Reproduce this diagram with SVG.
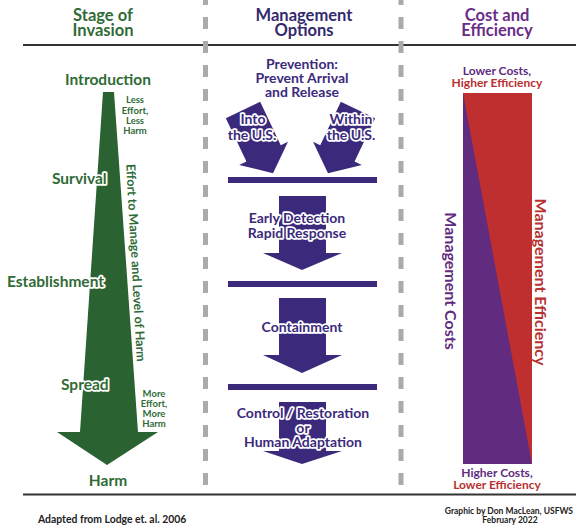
<svg xmlns="http://www.w3.org/2000/svg" width="576" height="527" viewBox="0 0 576 527">
<style>
text{font-family:Lato,"Liberation Sans",sans-serif;font-weight:bold;}
.g{fill:#2f6b36}
.p{fill:#3b2a7c}
.pc{fill:#612c80}
.r{fill:#b8302f}
.halo{paint-order:stroke;stroke:#fff;stroke-width:3.5px;stroke-linejoin:round}
.c{text-anchor:middle}
.dash{stroke:#aaa;stroke-width:5;stroke-dasharray:12 12}
.rule{stroke:#333;stroke-width:2}
.hd{font-size:16.5px}
.st{font-size:15.5px}
.sm{font-size:9.5px}
.mo{font-size:14px}
</style>
<defs>
<polygon id="diag" points="0,-19 48,-19 48,-27 70,0 48,27 48,19 0,19"/>
</defs>
<rect width="576" height="527" fill="#fff"/>

<g id="rules">
<line class="rule" x1="23" y1="45" x2="576" y2="45"/>
<line class="rule" x1="23" y1="494.5" x2="576" y2="494.5"/>
</g>

<g id="headers">
<text class="g c hd" x="103" y="20.5">Stage of</text>
<text class="g c hd" x="103" y="35.5">Invasion</text>
<text class="c hd" x="304" y="20.5" fill="#33296e">Management</text>
<text class="c hd" x="304" y="35.5" fill="#33296e">Options</text>
<text class="c hd" x="497" y="20.5" fill="#6a2c87">Cost and</text>
<text class="c hd" x="497" y="35.5" fill="#6a2c87">Efficiency</text>
</g>

<g id="stage-arrow">
<polygon points="103,92 114,92 138,432 158,432 107,465 57,432 80,432" fill="#2b6232"/>
</g>
<g id="stage-labels">
<text class="g c st" x="108" y="85">Introduction</text>
<text class="g c sm" x="135" y="103">Less</text>
<text class="g c sm" x="135" y="114">Effort,</text>
<text class="g c sm" x="135" y="124">Less</text>
<text class="g c sm" x="135" y="134">Harm</text>
<text class="g halo st" x="52" y="184">Survival</text>
<text class="g halo st" x="7" y="287">Establishment</text>
<text class="g halo st" x="61" y="390">Spread</text>
<text class="g c sm" x="154" y="397">More</text>
<text class="g c sm" x="154" y="407">Effort,</text>
<text class="g c sm" x="154" y="417">More</text>
<text class="g c sm" x="154" y="427">Harm</text>
<text class="g c st" x="108" y="486">Harm</text>
<text class="g c" transform="translate(131.5,263) rotate(86.9)" font-size="12.5">Effort to Manage and Level of Harm</text>
</g>

<g id="prevention">
<text class="p c mo" x="302" y="69">Prevention:</text>
<text class="p c mo" x="302" y="83">Prevent Arrival</text>
<text class="p c mo" x="302" y="97">and Release</text>
</g>
<g id="into-us">
<use href="#diag" transform="translate(243,110) rotate(64.6)" fill="#3b2a7c"/>
<text class="p c halo mo" x="253" y="124">Into</text>
<text class="p c halo mo" x="252" y="140">the U.S.</text>
</g>
<g id="within-us">
<use href="#diag" transform="translate(601,0) scale(-1,1) translate(243,110) rotate(64.6)" fill="#3b2a7c"/>
<text class="p c halo mo" x="351" y="124">Within</text>
<text class="p c halo mo" x="351" y="140">the U.S.</text>
</g>

<g id="bars" fill="#3b2a7c">
<rect x="228" y="177" width="149" height="6"/>
<rect x="228" y="281" width="149" height="6"/>
<rect x="228" y="384" width="149" height="6"/>
</g>

<g id="early-detection">
<polygon points="279,196 326,196 326,253 342,253 302,270 263,253 279,253" fill="#3b2a7c"/>
<text class="p c halo mo" x="297" y="223">Early Detection</text>
<text class="p c halo mo" x="297" y="238">Rapid Response</text>
</g>
<g id="containment">
<polygon points="279,298 326,298 326,355 342,355 302,373 263,355 279,355" fill="#3b2a7c"/>
<text class="p c halo mo" x="302" y="332">Containment</text>
</g>
<g id="control">
<polygon points="279,402 326,402 326,451 342,451 302,464 263,451 279,451" fill="#3b2a7c"/>
<text class="p c halo mo" x="303" y="418">Control / Restoration</text>
<text class="p c halo mo" x="303" y="433">or</text>
<text class="p c halo mo" x="303" y="447">Human Adaptation</text>
</g>

<g id="cost-bar">
<rect x="463" y="93" width="69" height="371" fill="#bf2f2f"/>
<polygon points="463,93 532,464 463,464" fill="#612c80"/>
<text class="pc c" x="497" y="75" font-size="12">Lower Costs,</text>
<text class="r c" x="497" y="86.5" font-size="12">Higher Efficiency</text>
<text class="pc c" x="497" y="477" font-size="12">Higher Costs,</text>
<text class="r c" x="497" y="488.5" font-size="12">Lower Efficiency</text>
<text class="pc c" transform="translate(444.5,281) rotate(90)" font-size="16">Management Costs</text>
<text class="r c" transform="translate(534.5,282) rotate(90)" font-size="16">Management Efficiency</text>
</g>

<g id="dividers">
<line class="dash" x1="205.5" y1="-7" x2="205.5" y2="497"/>
<line class="dash" x1="401" y1="-7" x2="401" y2="497"/>
</g>

<g id="credits">
<text x="38" y="523" font-size="10.4" fill="#222">Adapted from Lodge et. al. 2006</text>
<text x="573" y="514" font-size="8.5" fill="#222" text-anchor="end">Graphic by Don MacLean, USFWS</text>
<text x="510" y="523" font-size="8.5" fill="#222" text-anchor="middle">February 2022</text>
</g>
</svg>
